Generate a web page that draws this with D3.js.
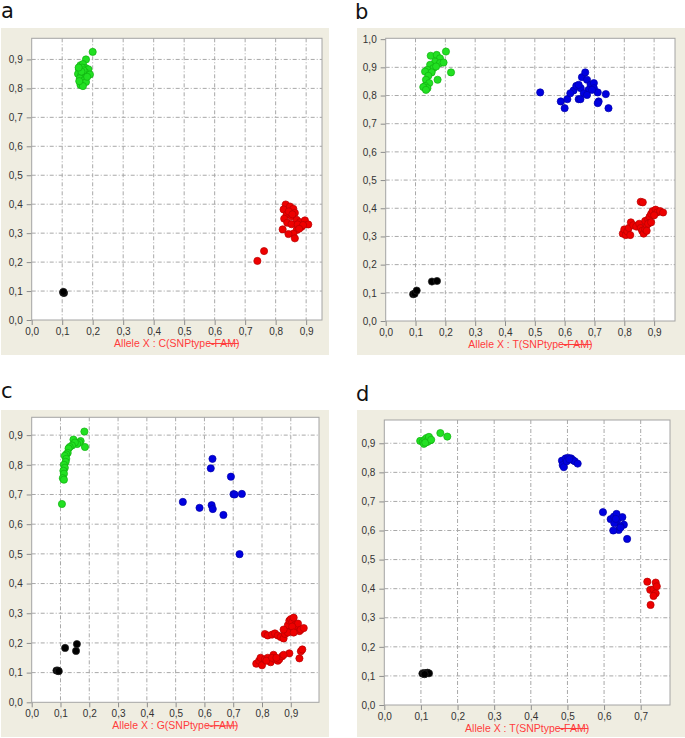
<!DOCTYPE html>
<html>
<head>
<meta charset="utf-8">
<script src="https://cdn.jsdelivr.net/npm/d3@7"></script>
<style>
body { margin: 0; background: #fff; }
</style>
</head>
<body>
<script>
// panel letters and allele names
const letters = ['a', 'b', 'c', 'd']
const alleles = ['C', 'T', 'G', 'T']
const xDomains = [[0, 0.952], [0, 0.97], [0, 0.998], [0, 0.78]]
const yDomains = [[0, 0.973], [0, 1.003], [0, 0.96], [0, 0.98]]
const xTickVals = [
    [0, 0.1, 0.2, 0.3, 0.4, 0.5, 0.6, 0.7, 0.8, 0.9],
    [0, 0.1, 0.2, 0.3, 0.4, 0.5, 0.6, 0.7, 0.8, 0.9],
    [0, 0.1, 0.2, 0.3, 0.4, 0.5, 0.6, 0.7, 0.8, 0.9],
    [0, 0.1, 0.2, 0.3, 0.4, 0.5, 0.6, 0.7]
]
const yTickVals = [
    [0, 0.1, 0.2, 0.3, 0.4, 0.5, 0.6, 0.7, 0.8, 0.9],
    [0, 0.1, 0.2, 0.3, 0.4, 0.5, 0.6, 0.7, 0.8, 0.9, 1.0],
    [0, 0.1, 0.2, 0.3, 0.4, 0.5, 0.6, 0.7, 0.8, 0.9],
    [0, 0.1, 0.2, 0.3, 0.4, 0.5, 0.6, 0.7, 0.8, 0.9]
]

// panel a
const aBlack = [[0.103, 0.095], [0.106, 0.093], [0.104, 0.097]]
const aGreen = [[0.200, 0.926], [0.178, 0.900], [0.160, 0.880], [0.168, 0.884], [0.177, 0.870], [0.186, 0.866],
    [0.155, 0.866], [0.165, 0.872], [0.152, 0.850], [0.162, 0.845], [0.175, 0.856], [0.191, 0.848],
    [0.170, 0.862], [0.158, 0.835], [0.172, 0.828], [0.178, 0.822], [0.160, 0.812], [0.168, 0.808],
    [0.156, 0.825], [0.182, 0.840], [0.163, 0.858], [0.154, 0.872]]
const aRed = [[0.833, 0.399], [0.847, 0.392], [0.858, 0.384], [0.863, 0.370], [0.826, 0.382], [0.836, 0.364],
    [0.852, 0.358], [0.828, 0.350], [0.869, 0.346], [0.880, 0.338], [0.896, 0.344], [0.907, 0.330],
    [0.885, 0.322], [0.869, 0.311], [0.858, 0.298], [0.842, 0.297], [0.863, 0.282], [0.823, 0.313],
    [0.838, 0.336], [0.852, 0.331], [0.872, 0.330], [0.843, 0.375], [0.855, 0.365], [0.890, 0.328],
    [0.877, 0.315], [0.740, 0.204], [0.762, 0.238]]

// panel b
const bBlack = [[0.092, 0.095], [0.097, 0.097], [0.104, 0.108], [0.155, 0.140], [0.172, 0.142]]
const bGreen = [[0.202, 0.956], [0.219, 0.882], [0.174, 0.856], [0.151, 0.941], [0.171, 0.944], [0.182, 0.932],
    [0.166, 0.920], [0.182, 0.915], [0.149, 0.909], [0.160, 0.897], [0.140, 0.891], [0.132, 0.885],
    [0.154, 0.882], [0.143, 0.870], [0.135, 0.856], [0.146, 0.844], [0.132, 0.834], [0.140, 0.826],
    [0.126, 0.830], [0.135, 0.820], [0.169, 0.903], [0.194, 0.917]]
const bBlue = [[0.518, 0.811], [0.587, 0.779], [0.600, 0.755], [0.609, 0.787], [0.630, 0.818], [0.639, 0.834],
    [0.654, 0.826], [0.658, 0.865], [0.669, 0.882], [0.675, 0.856], [0.687, 0.838], [0.698, 0.844],
    [0.680, 0.820], [0.664, 0.808], [0.647, 0.787], [0.653, 0.787], [0.698, 0.826], [0.711, 0.811],
    [0.714, 0.779], [0.711, 0.773], [0.738, 0.805], [0.747, 0.755], [0.675, 0.802], [0.619, 0.808],
    [0.647, 0.838], [0.692, 0.820]]
const bRed = [[0.795, 0.310], [0.800, 0.325], [0.805, 0.305], [0.810, 0.318], [0.815, 0.330], [0.822, 0.350],
    [0.830, 0.340], [0.840, 0.335], [0.850, 0.345], [0.855, 0.330], [0.860, 0.320], [0.865, 0.310],
    [0.870, 0.325], [0.875, 0.340], [0.870, 0.355], [0.880, 0.360], [0.885, 0.370], [0.890, 0.380],
    [0.895, 0.390], [0.905, 0.395], [0.910, 0.385], [0.920, 0.390], [0.930, 0.385], [0.900, 0.375],
    [0.880, 0.345], [0.875, 0.320], [0.855, 0.423], [0.862, 0.421], [0.890, 0.350], [0.820, 0.305]]

// panel c
const cBlack = [[0.086, 0.107], [0.091, 0.107], [0.094, 0.105], [0.116, 0.183], [0.154, 0.173], [0.157, 0.196]]
const cGreen = [[0.183, 0.912], [0.185, 0.860], [0.170, 0.880], [0.165, 0.875], [0.158, 0.870], [0.145, 0.885],
    [0.150, 0.875], [0.140, 0.865], [0.132, 0.860], [0.128, 0.855], [0.125, 0.840], [0.120, 0.835],
    [0.115, 0.830], [0.120, 0.820], [0.118, 0.810], [0.112, 0.800], [0.115, 0.790], [0.110, 0.780],
    [0.112, 0.770], [0.108, 0.755], [0.112, 0.750], [0.105, 0.668]]
const cBlue = [[0.628, 0.820], [0.622, 0.788], [0.692, 0.760], [0.701, 0.701], [0.730, 0.702], [0.525, 0.675],
    [0.583, 0.655], [0.625, 0.664], [0.629, 0.651], [0.666, 0.631], [0.722, 0.499], [0.705, 0.700]]
const cRed = [[0.810, 0.230], [0.820, 0.225], [0.835, 0.228], [0.845, 0.232], [0.855, 0.225], [0.865, 0.220],
    [0.875, 0.215], [0.880, 0.230], [0.885, 0.245], [0.890, 0.260], [0.895, 0.275], [0.900, 0.280],
    [0.905, 0.270], [0.910, 0.285], [0.915, 0.260], [0.920, 0.250], [0.925, 0.265], [0.930, 0.240],
    [0.935, 0.245], [0.945, 0.250], [0.900, 0.240], [0.905, 0.255], [0.890, 0.235], [0.875, 0.245],
    [0.910, 0.235],
    [0.780, 0.130], [0.790, 0.140], [0.795, 0.150], [0.800, 0.125], [0.810, 0.145], [0.820, 0.150],
    [0.830, 0.135], [0.840, 0.160], [0.845, 0.145], [0.855, 0.140], [0.860, 0.145], [0.870, 0.155],
    [0.895, 0.165], [0.930, 0.148], [0.935, 0.172], [0.940, 0.178], [0.815, 0.140], [0.835, 0.150],
    [0.850, 0.150], [0.875, 0.160]]

// panel d
const dBlack = [[0.104, 0.108], [0.108, 0.110], [0.113, 0.109], [0.118, 0.111], [0.122, 0.109], [0.110, 0.106]]
const dGreen = [[0.098, 0.908], [0.105, 0.905], [0.110, 0.912], [0.115, 0.918], [0.120, 0.915], [0.125, 0.910],
    [0.118, 0.905], [0.108, 0.898], [0.112, 0.902], [0.122, 0.922], [0.128, 0.912], [0.153, 0.935],
    [0.172, 0.923]]
const dBlue = [[0.485, 0.840], [0.487, 0.825], [0.490, 0.818], [0.495, 0.848], [0.502, 0.850], [0.510, 0.848],
    [0.515, 0.842], [0.520, 0.838], [0.528, 0.830], [0.498, 0.838], [0.505, 0.845],
    [0.597, 0.663], [0.618, 0.639], [0.627, 0.648], [0.634, 0.657], [0.636, 0.636], [0.650, 0.646],
    [0.654, 0.620], [0.645, 0.614], [0.640, 0.602], [0.625, 0.600], [0.663, 0.571], [0.628, 0.625],
    [0.645, 0.610], [0.632, 0.640]]
const dRed = [[0.718, 0.424], [0.741, 0.421], [0.726, 0.396], [0.735, 0.398], [0.741, 0.384], [0.735, 0.375],
    [0.727, 0.344], [0.744, 0.408]]

const seriesByPanel = [
    [aBlack, aGreen, aRed],
    [bBlack, bGreen, bBlue, bRed],
    [cBlack, cGreen, cBlue, cRed],
    [dBlack, dGreen, dBlue, dRed]
]
const colorByPanel = [
    ['black', 'green', 'red'],
    ['black', 'green', 'blue', 'red'],
    ['black', 'green', 'blue', 'red'],
    ['black', 'green', 'blue', 'red']
]

const fills = { black: '#000000', green: '#22e022', red: '#ee0000', blue: '#0000e0' }
const strokes = { black: '#222222', green: '#10b010', red: '#b80000', blue: '#0000a8' }

// layout (page pixels)
const boxes = [[1, 28, 328, 327], [357, 28, 328, 327], [1, 410, 328, 327], [357, 410, 328, 327]]
const plots = [[31.7, 38.3, 322, 320], [385.7, 38.3, 675, 321], [31.7, 417.3, 319, 702.3], [384.3, 420, 670, 705]]
const letterPos = [[1, 18], [355, 19], [1, 398], [356, 401]]

const svg = d3.select('body').append('svg')
    .attr('width', 685)
    .attr('height', 738)

const fmt = v => d3.format('.1f')(v).replace('.', ',')

for (let i = 0; i < 4; i++) {
    let p = plots[i]
    let b = boxes[i]
    let x = d3.scaleLinear().domain(xDomains[i]).range([p[0], p[2]])
    let y = d3.scaleLinear().domain(yDomains[i]).range([p[3], p[1]])

    svg.append('text')
        .attr('x', letterPos[i][0])
        .attr('y', letterPos[i][1])
        .attr('font-family', 'DejaVu Sans')
        .attr('font-size', 21)
        .attr('fill', '#111')
        .text(letters[i])

    svg.append('rect')
        .attr('x', b[0]).attr('y', b[1])
        .attr('width', b[2]).attr('height', b[3])
        .attr('fill', '#efede1')

    svg.append('rect')
        .attr('x', p[0]).attr('y', p[1])
        .attr('width', p[2] - p[0]).attr('height', p[3] - p[1])
        .attr('fill', '#ffffff')

    let g = svg.append('g')

    // grid
    g.selectAll('.vgrid')
        .data(xTickVals[i].slice(1))
        .join('line')
        .attr('x1', d => x(d)).attr('x2', d => x(d))
        .attr('y1', p[1]).attr('y2', p[3])
        .attr('stroke', '#a8a8a8')
        .attr('stroke-width', 1)
        .attr('stroke-dasharray', '4,2,1,2')
    g.selectAll('.hgrid')
        .data(yTickVals[i].slice(1).filter(d => y(d) > p[1] + 1))
        .join('line')
        .attr('y1', d => y(d)).attr('y2', d => y(d))
        .attr('x1', p[0]).attr('x2', p[2])
        .attr('stroke', '#a8a8a8')
        .attr('stroke-width', 1)
        .attr('stroke-dasharray', '4,2,1,2')

    // axes
    let xAxis = d3.axisBottom(x).tickValues(xTickVals[i]).tickFormat(fmt).tickSize(5).tickPadding(3)
    let yAxis = d3.axisLeft(y).tickValues(yTickVals[i]).tickFormat(fmt).tickSize(5).tickPadding(4)
    let gx = svg.append('g').attr('transform', 'translate(0,' + p[3] + ')').call(xAxis)
    let gy = svg.append('g').attr('transform', 'translate(' + p[0] + ',0)').call(yAxis)
    gx.select('.domain').remove()
    gy.select('.domain').remove()
    for (let ax of [gx, gy]) {
        ax.selectAll('line').attr('stroke', '#8c8c8c')
        ax.selectAll('text')
            .attr('fill', '#333')
            .attr('font-family', 'Liberation Sans')
            .attr('font-size', 10)
    }

    // border
    svg.append('rect')
        .attr('x', p[0]).attr('y', p[1])
        .attr('width', p[2] - p[0]).attr('height', p[3] - p[1])
        .attr('fill', 'none')
        .attr('stroke', '#a4a4a4')
        .attr('stroke-width', 1)

    // points
    let series = seriesByPanel[i]
    for (let s = 0; s < series.length; s++) {
        let c = colorByPanel[i][s]
        svg.append('g').selectAll('circle')
            .data(series[s])
            .join('circle')
            .attr('cx', d => x(d[0]))
            .attr('cy', d => y(d[1]))
            .attr('r', 3.6)
            .attr('fill', fills[c])
            .attr('stroke', strokes[c])
            .attr('stroke-width', 0.7)
    }

    // x label
    let lbl = 'Allele X : ' + alleles[i] + '(SNPtype-FAM)'
    let t = svg.append('text')
        .attr('x', (p[0] + p[2]) / 2)
        .attr('y', p[3] + 27)
        .attr('text-anchor', 'middle')
        .attr('font-family', 'Liberation Sans')
        .attr('font-size', 10.5)
        .attr('fill', '#ff3c3c')
        .text(lbl)
    let k = lbl.indexOf('e-FAM')
    let n = t.node()
    let sx = n.getStartPositionOfChar(k).x + 2
    let ex = n.getEndPositionOfChar(lbl.length - 1).x - 1
    svg.append('line')
        .attr('x1', sx).attr('x2', ex)
        .attr('y1', p[3] + 23.5).attr('y2', p[3] + 23.5)
        .attr('stroke', '#ff3c3c')
        .attr('stroke-width', 1)
}
</script>
</body>
</html>
